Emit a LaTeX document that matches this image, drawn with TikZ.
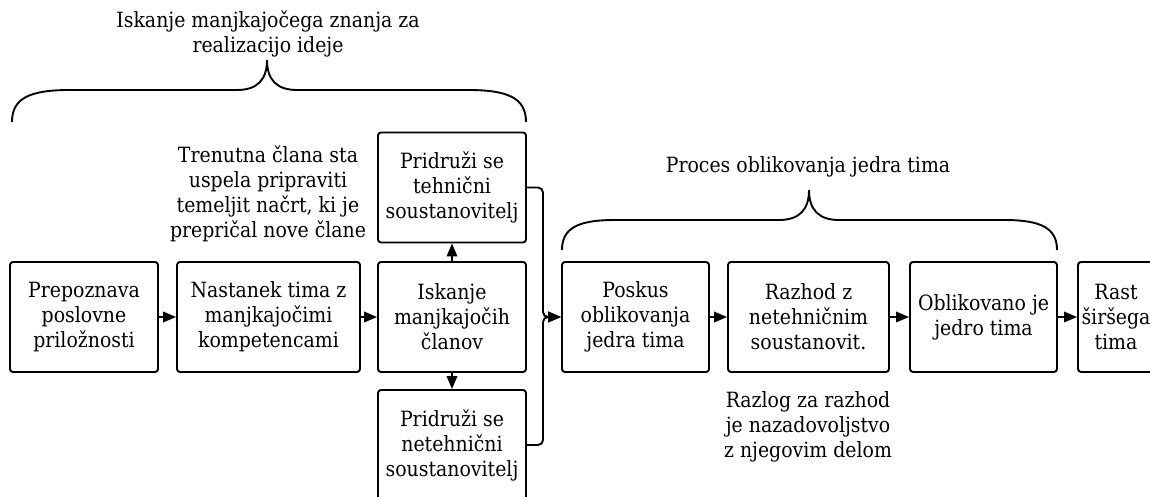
\documentclass[tikz,border=0pt]{standalone}
\usepackage{fontspec}
\IfFontExistsTF{DejaVu Serif Condensed}
  {\setmainfont{DejaVu Serif Condensed}\newcommand\mysize{\fontsize{21}{25}\selectfont}}
  {\setmainfont{DejaVu Serif}\newcommand\mysize{\fontsize{19}{25}\selectfont}}
\usetikzlibrary{arrows.meta}
\begin{document}
\begin{tikzpicture}[x=1pt,y=-1pt,
  every node/.style={font=\mysize, align=center, inner sep=0pt},
  stepbox/.style={draw, line width=1.9pt, rounded corners=3pt, minimum height=110pt},
  arr/.style={line width=1.9pt, -{Triangle[length=13pt,width=10.5pt]}},
  bracepath/.style={line width=1.9pt}]
\useasboundingbox (0,0) rectangle (1150,497);
% boxes
\node[stepbox, minimum width=148pt] (b1) at (84,317) {Prepoznava\\poslovne\\priložnosti};
\node[stepbox, minimum width=183pt] (b2) at (268.5,317) {Nastanek tima z\\manjkajočimi\\kompetencami};
\node[stepbox, minimum width=148pt] (b3) at (452,317) {Iskanje\\manjkajočih\\članov};
\node[stepbox, minimum width=148pt] (top) at (452,187.5) {Pridruži se\\tehnični\\soustanovitelj};
\node[stepbox, minimum width=148pt] (bot) at (452,445) {Pridruži se\\netehnični\\soustanovitelj};
\node[stepbox, minimum width=147pt] (p1) at (635.5,317) {Poskus\\oblikovanja\\jedra tima};
\node[stepbox, minimum width=161pt] (p2) at (808.5,317) {Razhod z\\netehničnim\\soustanovit.};
\node[stepbox, minimum width=147pt] (p3) at (983.5,317) {Oblikovano je\\jedro tima};
\node[stepbox, minimum width=82pt] (p4) at (1119,317) {};
\node (p4t) at (1116,317) {Rast\\širšega\\tima};
% texts
\node (t1) at (268,34) {Iskanje manjkajočega znanja za\\realizacijo ideje};
\node (a1) at (268,194) {Trenutna člana sta\\uspela pripraviti\\temeljit načrt, ki je\\prepričal nove člane};
\node (t2) at (808,167) {Proces oblikovanja jedra tima};
\node (a2) at (808,427) {Razlog za razhod\\je nazadovoljstvo\\z njegovim delom};
% connectors
\draw[arr] (b1) -- (b2);
\draw[arr] (b2) -- (b3);
\draw[arr] (b3) -- (top);
\draw[arr] (b3) -- (bot);
\coordinate (j) at (543,317);
\draw[arr, rounded corners=5pt] (top.east) -| (j) -- (p1.west);
\draw[arr, rounded corners=5pt] (bot.east) -| (j) -- (p1.west);
\draw[arr] (p1) -- (p2);
\draw[arr] (p2) -- (p3);
\draw[arr] (p3) -- (p4);
% braces
\draw[bracepath] (12,122) .. controls (12,98) and (30,90) .. (70,90) -- (237,90)
  .. controls (257,90) and (267,80) .. (267,60)
  .. controls (267,80) and (277,90) .. (297,90) -- (468,90)
  .. controls (508,90) and (526,98) .. (526,122);
\draw[bracepath] (562,250) .. controls (562,228) and (578,220) .. (615,220) -- (779,220)
  .. controls (799,220) and (809,210) .. (809,190)
  .. controls (809,210) and (819,220) .. (839,220) -- (1004,220)
  .. controls (1041,220) and (1057,228) .. (1057,250);
\end{tikzpicture}
\end{document}
